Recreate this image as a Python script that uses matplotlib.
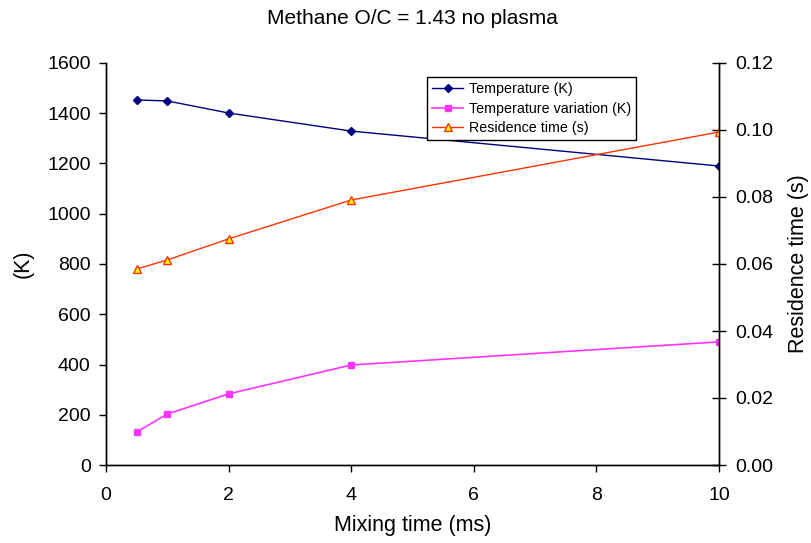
import matplotlib
matplotlib.use("Agg")
import matplotlib.pyplot as plt
from matplotlib.ticker import FormatStrFormatter

mixing_time = [0.5, 1, 2, 4, 10]
temperature = [1453, 1449, 1401, 1329, 1190]
temp_variation = [131, 203, 283, 398, 490]
residence_time = [0.0585, 0.0612, 0.0675, 0.0791, 0.0994]

plt.rcParams['font.family'] = ['Liberation Sans', 'DejaVu Sans']

fig = plt.figure(figsize=(8.12, 5.43), dpi=100)
ax = fig.add_axes([106/812, 1-465/543, (719-106)/812, (465-63)/543])
ax2 = ax.twinx()

l1, = ax.plot(mixing_time, temperature, color='#000080', marker='D', markersize=4.5,
              lw=1, label='Temperature (K)')
l2, = ax.plot(mixing_time, temp_variation, color='#FF33FF', marker='s', markersize=5,
              lw=1.2, label='Temperature variation (K)')
l3, = ax2.plot(mixing_time, residence_time, color='#FF3300', marker='^', markersize=5.5,
               markerfacecolor='#FFFF00', markeredgecolor='#FF3300', lw=1,
               label='Residence time (s)')

ax.set_xlim(0, 10)
ax.set_ylim(0, 1600)
ax2.set_ylim(0, 0.12)
ax.set_xticks([0, 2, 4, 6, 8, 10])
ax.set_yticks(range(0, 1601, 200))
ax2.set_yticks([0, 0.02, 0.04, 0.06, 0.08, 0.10, 0.12])
ax2.yaxis.set_major_formatter(FormatStrFormatter('%.2f'))

for a in (ax, ax2):
    a.tick_params(labelsize=14, length=5, width=1, pad=6)
    for s in a.spines.values():
        s.set_linewidth(1)
ax.spines['top'].set_visible(False)
ax2.spines['top'].set_visible(False)
ax.tick_params(axis='x', pad=11)
ax2.tick_params(axis='y', direction='inout', length=10, pad=7)

ax.set_xlabel('Mixing time (ms)', fontsize=15.5, labelpad=8)
ax.set_ylabel('(K)', fontsize=15.5, labelpad=10)
ax2.set_ylabel('Residence time (s)', fontsize=15.5, labelpad=10)
fig.text((106+719)/2/812, 1-18/543, 'Methane O/C = 1.43 no plasma', ha='center', va='center', fontsize=15)

leg = ax.legend(handles=[l1, l2, l3], loc='upper left',
                bbox_to_anchor=((427-106)/613, (465-77)/402), fontsize=10.3,
                frameon=True, fancybox=False, edgecolor='black', framealpha=1,
                borderpad=0.35, labelspacing=0.4, handlelength=2.2, handletextpad=0.4,
                borderaxespad=0)
leg.get_frame().set_linewidth(1)

fig.savefig('out.png', dpi=100)
